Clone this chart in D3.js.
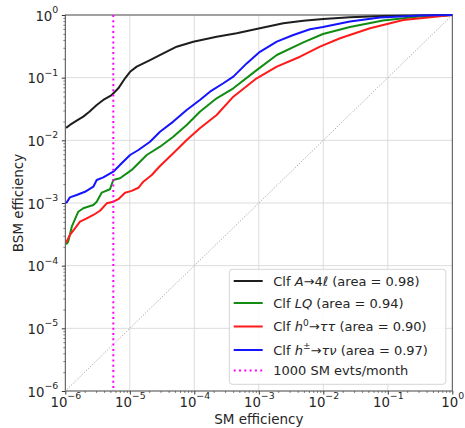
<!DOCTYPE html>
<html lang="en">
<head>
<meta charset="utf-8">
<title>BSM vs SM efficiency</title>
<script src="https://d3js.org/d3.v7.min.js"></script>
<style>
body { margin: 0; background: #fff; }
text { font-family: "DejaVu Sans", sans-serif; fill: #262626; }
.grid line { stroke: #dcdcdc; stroke-width: 1; }
.axis path { display: none; }
.axis line { stroke: #333; }
</style>
</head>
<body>
<script>

// ---- data ----

// Clf A->4l
var smA4l  = [1.03e-6, 1.18e-6, 1.50e-6, 1.90e-6, 2.36e-6, 3.07e-6, 3.88e-6, 5.24e-6, 6.64e-6, 8.43e-6,
              1.01e-5, 1.28e-5, 2.06e-5, 3.30e-5, 5.33e-5, 9.64e-5, 2.22e-4, 4.54e-4, 1.04e-3, 2.40e-3,
              4.90e-3, 1.00e-2, 2.59e-2, 8.51e-2, 1];
var bsmA4l = [1.58e-2, 1.76e-2, 2.06e-2, 2.39e-2, 2.86e-2, 3.66e-2, 4.41e-2, 5.28e-2, 6.76e-2, 9.77e-2,
              1.24e-1, 1.50e-1, 1.91e-1, 2.45e-1, 3.12e-1, 3.75e-1, 4.51e-1, 5.11e-1, 6.14e-1, 7.38e-1,
              8.11e-1, 8.63e-1, 0.918, 0.964, 1];

// Clf LQ
var smLQ  = [1.03e-6, 1.11e-6, 1.26e-6, 1.59e-6, 1.90e-6, 2.72e-6, 3.07e-6, 3.66e-6, 4.93e-6, 5.55e-6,
             7.05e-6, 1.07e-5, 1.83e-5, 2.94e-5, 4.72e-5, 7.62e-5, 1.22e-4, 2.22e-4, 4.03e-4, 9.27e-4,
             1.90e-3, 4.90e-3, 9.89e-3, 2.59e-2, 8.43e-2, 3.16e-1, 1];
var bsmLQ = [2.19e-4, 2.42e-4, 4.19e-4, 7.26e-4, 8.24e-4, 9.29e-4, 1.05e-3, 1.46e-3, 1.66e-3, 2.33e-3,
             2.48e-3, 3.37e-3, 5.83e-3, 7.92e-3, 1.14e-2, 1.76e-2, 2.86e-2, 4.69e-2, 6.76e-2, 1.32e-1,
             2.30e-1, 3.66e-1, 4.98e-1, 6.44e-1, 8.17e-1, 0.946, 1];

// Clf h0->tautau
var smHtt  = [1.03e-6, 1.18e-6, 1.41e-6, 1.69e-6, 2.15e-6, 2.72e-6, 3.45e-6, 4.39e-6, 5.55e-6, 6.64e-6,
              8.43e-6, 1.07e-5, 1.36e-5, 1.62e-5, 2.19e-5, 2.94e-5, 4.72e-5, 7.62e-5, 1.22e-4, 2.22e-4,
              4.03e-4, 9.27e-4, 1.90e-3, 4.36e-3, 8.89e-3, 1.82e-2, 5.30e-2, 1.74e-1, 1];
var bsmHtt = [2.33e-4, 3.09e-4, 3.94e-4, 5.03e-4, 5.70e-4, 6.44e-4, 7.53e-4, 9.89e-4, 1.05e-3, 1.15e-3,
              1.46e-3, 1.56e-3, 1.75e-3, 2.19e-3, 2.80e-3, 3.90e-3, 6.21e-3, 1.01e-2, 1.56e-2, 2.54e-2,
              4.97e-2, 9.77e-2, 1.50e-1, 2.16e-1, 3.12e-1, 4.25e-1, 6.14e-1, 8.32e-1, 1];

// Clf h+- -> tau nu
var smHtn  = [1.03e-6, 1.18e-6, 1.50e-6, 2.02e-6, 2.72e-6, 3.07e-6, 3.88e-6, 5.55e-6, 7.48e-6, 1.01e-5,
              1.36e-5, 2.06e-5, 2.94e-5, 4.72e-5, 7.62e-5, 1.22e-4, 1.75e-4, 2.82e-4, 4.03e-4, 6.49e-4,
              1.04e-3, 1.90e-3, 3.43e-3, 6.22e-3, 9.89e-3, 2.59e-2, 7.57e-2, 3.16e-1, 1];
var bsmHtn = [9.89e-4, 1.23e-3, 1.34e-3, 1.51e-3, 1.82e-3, 2.33e-3, 2.57e-3, 3.16e-3, 4.31e-3, 5.83e-3,
              7.01e-3, 9.51e-3, 1.37e-2, 1.99e-2, 3.05e-2, 4.41e-2, 5.98e-2, 8.15e-2, 1.04e-1, 1.69e-1,
              2.59e-1, 3.75e-1, 4.80e-1, 5.92e-1, 6.44e-1, 7.87e-1, 0.912, 0.982, 1];

// 1000 SM events / month
var smMonthCut = 5.55e-6;

// diagonal (random classifier)
var diagEff = [1e-6, 1];

var decades = [1e-6, 1e-5, 1e-4, 1e-3, 1e-2, 1e-1, 1];
var decadeExp = ["\u22126", "\u22125", "\u22124", "\u22123", "\u22122", "\u22121", "0"];

var legendLabels = [
  "Clf <i>A</i>\u2192" + "4<i>\u2113</i> (area = 0.98)",
  "Clf <i>LQ</i> (area = 0.94)",
  "Clf <i>h</i><sup>0</sup>\u2192<i>\u03c4\u03c4</i> (area = 0.90)",
  "Clf <i>h</i><sup>\u00b1</sup>\u2192<i>\u03c4\u03bd</i> (area = 0.97)",
  "1000 SM evts/month"
];

// ---- layout ----

var margin = {top: 15, right: 12.7, bottom: 37, left: 65.3};
var width = 465 - margin.left - margin.right,
    height = 428 - margin.top - margin.bottom;

var svg = d3.select("body").append("svg")
    .attr("width", 465)
    .attr("height", 428)
  .append("g")
    .attr("transform", "translate(" + margin.left + "," + margin.top + ")");

var xScale = d3.scaleLog().domain([1e-6, 1]).range([0, width]);
var yScale = d3.scaleLog().domain([1e-6, 1]).range([height, 0]);

// minor tick values 2..9 x 10^k
var minors = [];
decades.slice(0, -1).forEach(function(d) {
  for (var k = 2; k < 10; k++) minors.push(d * k);
});

// grid
svg.append("g").attr("class", "grid")
  .selectAll("line").data(decades).enter().append("line")
    .attr("x1", function(d) { return xScale(d); })
    .attr("x2", function(d) { return xScale(d); })
    .attr("y1", 0).attr("y2", height);
svg.append("g").attr("class", "grid")
  .selectAll("line").data(decades).enter().append("line")
    .attr("y1", function(d) { return yScale(d); })
    .attr("y2", function(d) { return yScale(d); })
    .attr("x1", 0).attr("x2", width);

// axes: major + minor ticks
var xMajor = svg.append("g").attr("class", "axis")
    .attr("transform", "translate(0," + height + ")")
    .call(d3.axisBottom(xScale).tickValues(decades).tickSize(3.5).tickPadding(3.5));
svg.append("g").attr("class", "axis minor")
    .attr("transform", "translate(0," + height + ")")
    .call(d3.axisBottom(xScale).tickValues(minors).tickSize(2).tickFormat(""));
var yMajor = svg.append("g").attr("class", "axis")
    .call(d3.axisLeft(yScale).tickValues(decades).tickSize(3.5).tickPadding(3.5));
svg.append("g").attr("class", "axis minor")
    .call(d3.axisLeft(yScale).tickValues(minors).tickSize(2).tickFormat(""));
svg.selectAll(".axis.minor line").style("stroke-width", 0.6);

// 10^n labels
function powLabel(sel) {
  sel.each(function(d, i) {
    var t = d3.select(this).text("")
      .style("font-size", "13.3px");
    t.append("tspan").text("10");
    t.append("tspan").attr("dy", "-7.5").style("font-size", "9.4px").text(decadeExp[i]);
  });
}
xMajor.selectAll("text").attr("dy", null).attr("y", 15.5).call(powLabel);
yMajor.selectAll("text").attr("dy", null).attr("y", 5).call(powLabel);

// frame
svg.append("rect")
    .attr("width", width).attr("height", height)
    .attr("fill", "none").attr("stroke", "#444").attr("stroke-width", 0.9);

// diagonal
var diagLine = d3.line()
    .x(function(d) { return xScale(d); })
    .y(function(d) { return yScale(d); });
svg.append("path")
    .attr("d", diagLine(diagEff))
    .attr("fill", "none").attr("stroke", "#9a9a9a")
    .attr("stroke-width", 1).attr("stroke-dasharray", "1,1.65");

// ROC curves
var series = [
  {sm: smA4l, bsm: bsmA4l, color: "#1e1e1e"},
  {sm: smLQ,  bsm: bsmLQ,  color: "#128c12"},
  {sm: smHtt, bsm: bsmHtt, color: "#ff1a1a"},
  {sm: smHtn, bsm: bsmHtn, color: "#1414ff"}
];

var curve = d3.line()
    .x(function(d) { return xScale(d[0]); })
    .y(function(d) { return yScale(d[1]); });

series.forEach(function(s) {
  svg.append("path")
    .attr("d", curve(d3.zip(s.sm, s.bsm)))
    .attr("fill", "none")
    .attr("stroke", s.color)
    .attr("stroke-width", 2)
    .attr("stroke-linejoin", "round");
});

// 1000 SM events/month
svg.append("line")
    .attr("x1", xScale(smMonthCut)).attr("x2", xScale(smMonthCut))
    .attr("y1", 0).attr("y2", height)
    .attr("stroke", "#ff00ff").attr("stroke-width", 2)
    .attr("stroke-dasharray", "2,3.3");

// axis titles
svg.append("text")
    .attr("x", width / 2).attr("y", 409)
    .attr("text-anchor", "middle")
    .style("font-size", "13.5px")
    .text("SM efficiency");
svg.append("text")
    .attr("transform", "translate(" + (23 - margin.left) + "," + (height / 2) + ") rotate(-90)")
    .attr("text-anchor", "middle")
    .style("font-size", "13.5px")
    .text("BSM efficiency");

// legend
var legendColors = ["#1e1e1e", "#128c12", "#ff1a1a", "#1414ff", "#ff00ff"];
var legendRowY = [281, 303, 326.5, 350, 370.5];

var lg = d3.select("svg").append("g");
lg.append("rect")
    .attr("x", 229.3).attr("y", 269.3)
    .attr("width", 216.5).attr("height", 115)
    .attr("rx", 3)
    .attr("fill", "#fff").attr("fill-opacity", 0.85)
    .attr("stroke", "#d5d5d5").attr("stroke-width", 1);

legendLabels.forEach(function(lab, i) {
  var y = legendRowY[i];
  lg.append("line")
      .attr("x1", 233.7).attr("x2", 262.7)
      .attr("y1", y).attr("y2", y)
      .attr("stroke", legendColors[i])
      .attr("stroke-width", 2)
      .attr("stroke-dasharray", i == 4 ? "2,3.3" : null);

  var t = lg.append("text")
      .attr("x", 273.3).attr("y", y + 4.6)
      .style("font-size", "13px");
  var shift = 0;
  lab.split(/(<i>.*?<\/i>|<sup>.*?<\/sup>)/).forEach(function(p) {
    if (!p) return;
    var ts = t.append("tspan");
    if (p.indexOf("<i>") == 0) {
      ts.style("font-style", "italic").text(p.slice(3, -4));
      if (shift) { ts.attr("dy", -shift); shift = 0; }
    } else if (p.indexOf("<sup>") == 0) {
      ts.style("font-size", "9.1px").attr("dy", -5.5).text(p.slice(5, -6));
      shift = -5.5;
    } else {
      ts.text(p);
      if (shift) { ts.attr("dy", -shift); shift = 0; }
    }
  });
});

</script>
</body>
</html>
